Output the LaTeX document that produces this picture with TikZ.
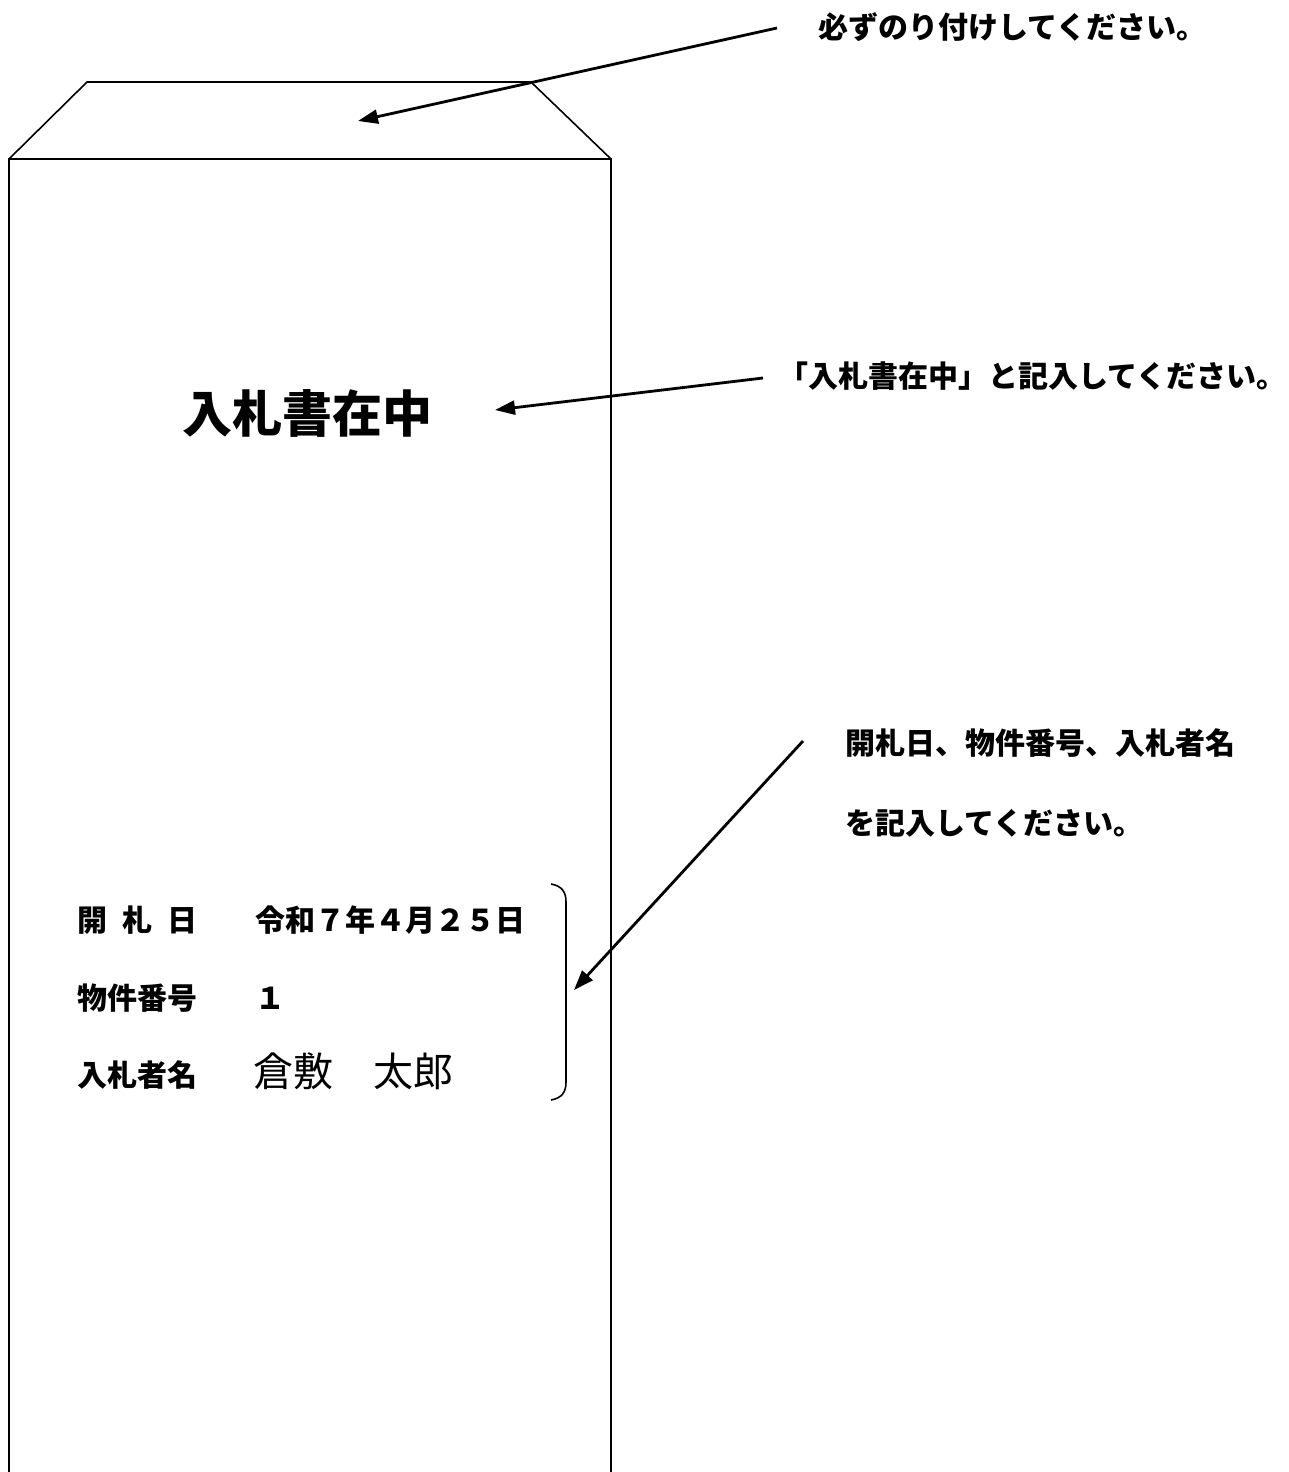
\documentclass[tikz,border=0pt]{standalone}
\usepackage{fontspec}
\setmainfont{Noto Sans CJK JP}
\usetikzlibrary{arrows.meta}
\tikzset{
  envline/.style={line width=1.6pt, line join=miter},
  pointer/.style={line width=2.8pt, -{Triangle[length=20pt,width=14pt]}},
  note/.style={anchor=west, inner sep=0pt, font=\fontsize{30}{36}\selectfont\bfseries},
  rowtxt/.style={anchor=west, inner sep=0pt, font=\fontsize{30}{36}\selectfont\bfseries},
  nametxt/.style={anchor=west, inner sep=0pt, font=\fontsize{40}{48}\selectfont},
  titletxt/.style={anchor=west, inner sep=0pt, font=\fontsize{50}{60}\selectfont\bfseries}
}
\begin{document}
\begin{tikzpicture}[x=1pt,y=-1pt]
\useasboundingbox (0,0) rectangle (1288,1472);
% envelope
\coordinate (bl) at (9,1472);
\coordinate (tl) at (9,159);
\coordinate (tr) at (611,159);
\coordinate (br) at (611,1472);
\coordinate (fl) at (87,82);
\coordinate (fr) at (531,82);
\draw[envline] (bl) -- (tl) -- (tr) -- (br);
\draw[envline] (tl) -- (fl) -- (fr) -- (tr);
% title
\node[titletxt] (title) at (182,413) {入札書在中};
% rows
\node[rowtxt] (l1) at (77,920) {開\hspace{0.5em}札\hspace{0.5em}日};
\node[rowtxt] (v1) at (255,920) {令和７年４月２５日};
\node[rowtxt] (l2) at (77,998) {物件番号};
\node[rowtxt] (v2) at (255,998) {１};
\node[rowtxt] (l3) at (77,1075) {入札者名};
\node[nametxt] (v3) at (253,1071) {倉敷　太郎};
% bracket
\coordinate (bt) at (551,884);
\coordinate (bb) at (551,1100);
\draw[line width=1.6pt] (bt) .. controls (562,886) and (566,892) .. (566,902)
  -- (566,1082) .. controls (566,1092) and (562,1098) .. (bb);
% notes
\node[note] (n1) at (818,27) {必ずのり付けしてください。};
\node[note] (n2) at (778,376) {「入札書在中」と記入してください。};
\node[note] (n3) at (845,743) {開札日、物件番号、入札者名};
\node[note] (n4) at (845,823) {を記入してください。};
% arrow ends
\coordinate (a1s) at (777,28);
\coordinate (a1e) at (358,121);
\coordinate (a2s) at (763,378);
\coordinate (a2e) at (495,410);
\coordinate (a3s) at (803,741);
\coordinate (a3e) at (574,990);
\draw[pointer] (a1s) -- (a1e);
\draw[pointer] (a2s) -- (a2e);
\draw[pointer] (a3s) -- (a3e);
\end{tikzpicture}
\end{document}
